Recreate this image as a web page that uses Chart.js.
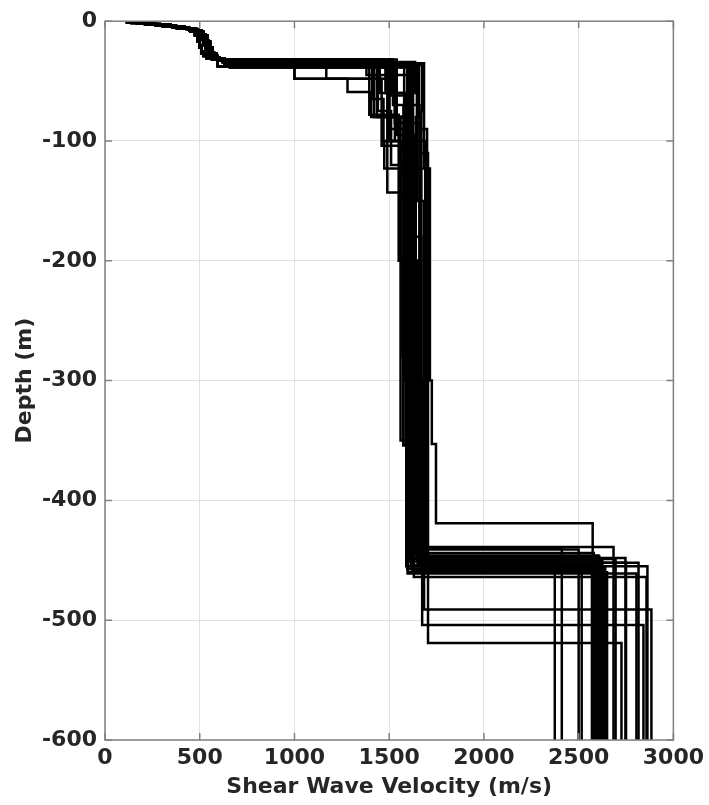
<!DOCTYPE html>
<html>
<head>
<meta charset="utf-8">
<script src="https://cdn.jsdelivr.net/npm/chart.js@4.4.0/dist/chart.umd.min.js"></script>
<style>
  html, body { margin: 0; padding: 0; background: #ffffff; }
  #wrap { width: 709px; height: 805px; }
</style>
</head>
<body>
<div id="wrap"><canvas id="vs" width="709" height="805"></canvas></div>
<script>
// Axis ticks
const velocityTicks = [0, 500, 1000, 1500, 2000, 2500, 3000];
const depthTicks = [0, -100, -200, -300, -400, -500, -600];

// Near-surface layering: [shear wave velocity (m/s), layer bottom (m)]
const shallowA = [[116,-1],[170,-2],[235,-3],[305,-4.5],[380,-6],[445,-8],[475,-11],[490,-15],[500,-20],[508,-25],[520,-29],[565,-32]];
const shallowB = [[135,-1.2],[210,-2.4],[290,-3.6],[370,-5],[440,-7],[485,-9.5],[505,-14],[518,-19],[530,-24],[548,-28],[578,-31],[630,-35]];
const shallowC = [[165,-1.5],[255,-2.8],[345,-4.2],[420,-5.8],[475,-7.8],[510,-11],[530,-16],[545,-21],[558,-26],[575,-30],[605,-33],[650,-36.5]];
const shallowD = [[122,-0.8],[180,-1.8],[250,-3],[320,-4.6],[395,-6.4],[450,-8.6],[475,-12],[488,-17],[498,-22],[510,-27],[535,-31],[595,-37.5]];
const shallowE = [[180,-2],[265,-3.5],[355,-5],[430,-6.6],[485,-8.8],[520,-12],[540,-17],[555,-22],[568,-27],[590,-31],[620,-34],[660,-38.5]];
const shallowF = [[140,-1.4],[215,-2.6],[295,-3.8],[375,-5.4],[445,-7.2],[492,-10],[512,-15],[525,-20],[540,-25],[560,-29],[595,-32],[625,-34]];

// Deeper layering of each profile down to -600 m
const profile01 = [...shallowA, [1510,-62],[1600,-123],[1715,-300],[1725,-353],[1747,-419],[2574,-600]];
const profile02 = [...shallowB, [1684,-122],[1700,-439],[2684,-600]];
const profile03 = [...shallowC, [1000,-48],[1500,-100],[1590,-250],[1620,-440],[2411,-600]];
const profile04 = [...shallowD, [1658,-80],[1640,-441],[2500,-600]];
const profile05 = [...shallowE, [1495,-90],[1575,-354],[1605,-449],[2695,-600]];
const profile06 = [...shallowF, [1637,-60],[1610,-200],[1660,-452],[2750,-600]];
const profile07 = [...shallowA, [1168,-48],[1280,-59],[1405,-80],[1560,-200],[1650,-450],[2600,-600]];
const profile08 = [...shallowB, [1420,-80],[1580,-180],[1670,-453],[2620,-600]];
const profile09 = [...shallowC, [1395,-78],[1550,-200],[1570,-280],[1615,-455],[2590,-600]];
const profile10 = [...shallowD, [1626,-100],[1690,-456],[2640,-600]];
const profile11 = [...shallowE, [1530,-100],[1474,-123],[1600,-451],[2374,-600]];
const profile12 = [...shallowF, [1490,-143],[1630,-454],[2516,-600]];
const profile13 = [...shallowA, [1520,-70],[1575,-354],[1597,-461],[2805,-600]];
const profile14 = [...shallowB, [1605,-95],[1630,-464],[2858,-600]];
const profile15 = [...shallowC, [1500,-45],[1647,-150],[1684,-491],[2884,-600]];
const profile16 = [...shallowD, [1000,-48],[1460,-104],[1580,-300],[1674,-504],[2842,-600]];
const profile17 = [...shallowE, [1579,-110],[1705,-519],[2726,-600]];
const profile18 = [...shallowF, [1435,-80],[1600,-300],[1680,-447],[2610,-600]];
const profile19 = [...shallowA, [1540,-95],[1620,-458],[2630,-600]];
const profile20 = [...shallowB, [1647,-90],[1700,-452],[2816,-600]];
const profile21 = [...shallowC, [1480,-60],[1590,-455],[2863,-600]];
const profile22 = [...shallowD, [1530,-85],[1660,-444],[2580,-600]];
const profile23 = [...shallowE, [1616,-105],[1610,-448],[2747,-600]];
const profile24 = [...shallowF, [1500,-100],[1640,-446],[2605,-600]];
const profile25 = [...shallowA, [1450,-60],[1595,-457],[2595,-600]];
const profile26 = [...shallowC, [1674,-75],[1670,-450],[2625,-600]];
const profile27 = [...shallowB, [1410,-65],[1470,-100],[1560,-350],[1650,-453],[2570,-600]];
const profile28 = [...shallowD, [1440,-75],[1510,-120],[1600,-460],[2650,-600]];
const profile29 = [...shallowF, [1380,-45],[1500,-80],[1620,-455],[2585,-600]];
const profile30 = [...shallowE, [1595,-70],[1660,-300],[1700,-450],[2615,-600]];

const profiles = [
  profile01, profile02, profile03, profile04, profile05, profile06, profile07, profile08,
  profile09, profile10, profile11, profile12, profile13, profile14, profile15, profile16,
  profile17, profile18, profile19, profile20, profile21, profile22, profile23, profile24,
  profile25, profile26, profile27, profile28, profile29, profile30
];

// Turn a list of layers into a stair-step velocity/depth path
function stepPath(layers) {
  const pts = [];
  let top = 0;
  for (const [v, bottom] of layers) {
    pts.push({ x: v, y: top });
    pts.push({ x: v, y: bottom });
    top = bottom;
  }
  return pts;
}

const axisFont = { family: 'DejaVu Sans', size: 22, weight: 'bold' };
const inkColor = '#262626';

// Box around the plot with inward tick marks on all four sides
const boxFrame = {
  id: 'boxFrame',
  afterDatasetsDraw(chart) {
    const { ctx, chartArea: a, scales: { x, y } } = chart;
    const len = 7;
    ctx.save();
    ctx.strokeStyle = '#808080';
    ctx.lineWidth = 1.5;
    ctx.beginPath();
    for (const v of velocityTicks) {
      const px = x.getPixelForValue(v);
      ctx.moveTo(px, a.bottom); ctx.lineTo(px, a.bottom - len);
      ctx.moveTo(px, a.top); ctx.lineTo(px, a.top + len);
    }
    for (const d of depthTicks) {
      const py = y.getPixelForValue(d);
      ctx.moveTo(a.left, py); ctx.lineTo(a.left + len, py);
      ctx.moveTo(a.right, py); ctx.lineTo(a.right - len, py);
    }
    ctx.stroke();
    ctx.strokeRect(a.left, a.top, a.right - a.left, a.bottom - a.top);
    ctx.restore();
  }
};

new Chart(document.getElementById('vs'), {
  type: 'line',
  data: {
    datasets: profiles.map(layers => ({
      data: stepPath(layers),
      borderColor: '#000000',
      borderWidth: 2.5,
      pointRadius: 0,
      fill: false,
      tension: 0
    }))
  },
  options: {
    responsive: false,
    animation: false,
    devicePixelRatio: 1,
    layout: { padding: { left: 0, top: 20, right: 35, bottom: 0 } },
    plugins: { legend: { display: false }, tooltip: { enabled: false } },
    scales: {
      x: {
        type: 'linear',
        min: 0, max: 3000,
        afterFit(scale) { scale.height = 65; },
        afterBuildTicks(scale) { scale.ticks = velocityTicks.map(v => ({ value: v })); },
        ticks: { color: inkColor, font: axisFont, padding: 5, maxRotation: 0, callback: v => String(v) },
        grid: { color: '#e2e2e2', lineWidth: 1, drawTicks: false },
        border: { display: false },
        title: { display: true, text: 'Shear Wave Velocity (m/s)', color: inkColor, font: axisFont, padding: { top: 0, bottom: 5 } }
      },
      y: {
        type: 'linear',
        min: -600, max: 0,
        afterFit(scale) { scale.width = 105; },
        afterBuildTicks(scale) { scale.ticks = depthTicks.map(v => ({ value: v })); },
        ticks: { color: inkColor, font: axisFont, padding: 8, callback: v => String(v) },
        grid: { color: '#e2e2e2', lineWidth: 1, drawTicks: false },
        border: { display: false },
        title: { display: true, text: 'Depth (m)', color: inkColor, font: axisFont, padding: { top: 12, bottom: 0 } }
      }
    }
  },
  plugins: [boxFrame]
});
</script>
</body>
</html>
